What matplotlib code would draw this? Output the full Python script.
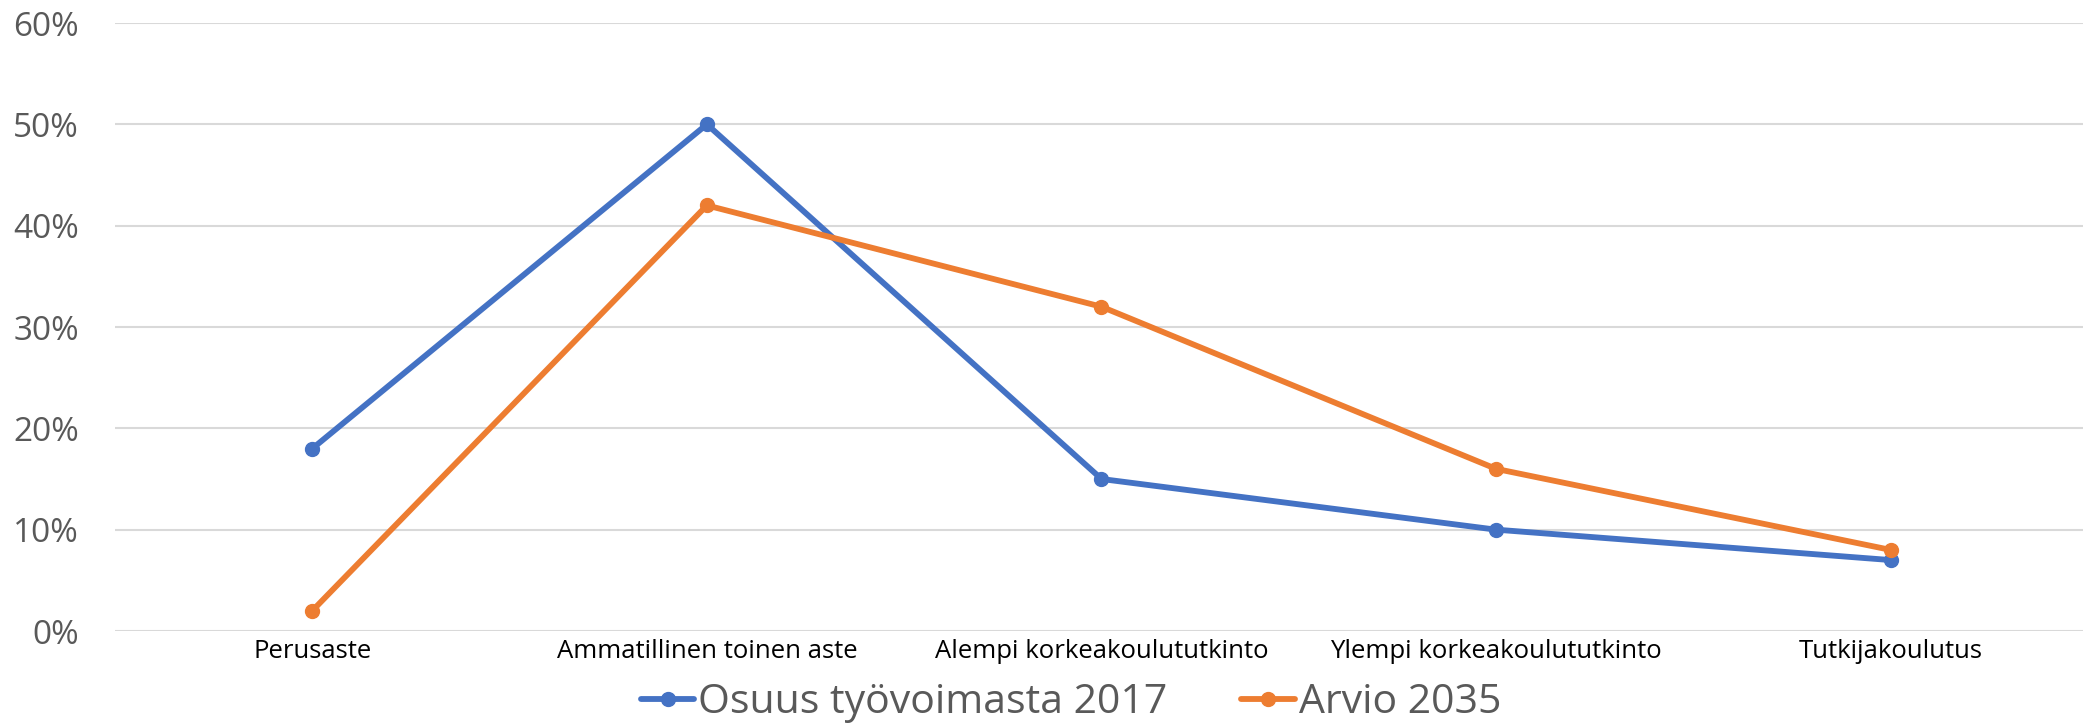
import matplotlib
matplotlib.use("Agg")
import matplotlib.pyplot as plt
from matplotlib.ticker import FuncFormatter, MultipleLocator

categories = ["Perusaste", "Ammatillinen toinen aste", "Alempi korkeakoulututkinto",
              "Ylempi korkeakoulututkinto", "Tutkijakoulutus"]
osuus_2017 = [18, 50, 15, 10, 7]
arvio_2035 = [2, 42, 32, 16, 8]
series_names = ["Osuus työvoimasta 2017", "Arvio 2035"]

FONT = ["Open Sans", "DejaVu Sans"]
plt.rcParams['font.family'] = FONT

W, H = 2083, 724
fig = plt.figure(figsize=(W / 100, H / 100), dpi=100)
left, right = 115, 2088
bottom, top = 631, 23
ax = fig.add_axes([left / W, (H - bottom) / H, (right - left) / W, (bottom - top) / H])

x = list(range(len(categories)))
ax.plot(x, osuus_2017, color="#4472C4", lw=4.2, marker="o", ms=10, label=series_names[0],
        solid_capstyle="round", zorder=3)
ax.plot(x, arvio_2035, color="#ED7D31", lw=4.2, marker="o", ms=10, label=series_names[1],
        solid_capstyle="round", zorder=3)

ax.set_xlim(-0.5, len(categories) - 0.5)
ax.set_ylim(0, 60)
ax.yaxis.set_major_locator(MultipleLocator(10))
ax.yaxis.set_major_formatter(FuncFormatter(lambda v, p: f"{int(v)}%"))
ax.set_xticks(x)
ax.set_xticklabels(categories, fontsize=18.5, color="black")
ax.tick_params(axis="y", labelsize=24, labelcolor="#595959", length=0, pad=26)
ax.tick_params(axis="x", length=0, pad=6)
ax.grid(axis="y", color="#D9D9D9", lw=1.5)
ax.set_axisbelow(True)
for s in ax.spines.values():
    s.set_visible(False)

leg = fig.legend(loc="center", bbox_to_anchor=(1071 / W, 1 - 703 / H), ncol=2, frameon=False,
                 fontsize=29.5, labelcolor="#595959", handlelength=1.3, handletextpad=0.1,
                 columnspacing=1.8, borderaxespad=0)
for h in leg.legend_handles:
    h.set_markersize(10)
    h.set_linewidth(4.2)

fig.savefig("out.png", dpi=100, facecolor="white")
